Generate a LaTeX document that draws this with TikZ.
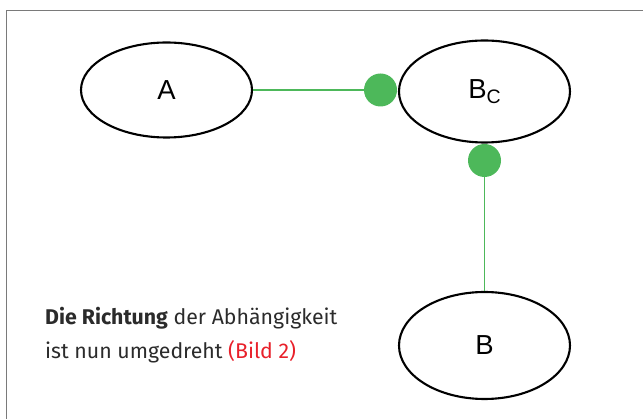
\documentclass[tikz,border=0pt]{standalone}
\usepackage{fontspec}
\setmainfont{Fira Sans}
\newfontfamily\labelfont{Liberation Sans}
\usetikzlibrary{shapes.geometric}
\definecolor{dotgreen}{HTML}{4DB85A}
\definecolor{frame}{HTML}{7A7A7A}
\definecolor{bodytext}{HTML}{2B2B2B}
\definecolor{refred}{HTML}{E8202A}
\tikzset{
  entity/.style={ellipse, draw=black, line width=2.1pt, fill=white,
    minimum width=171pt, inner sep=0pt,
    font=\labelfont\fontsize{27.5}{27.5}\selectfont},
  joint/.style={circle, fill=dotgreen, minimum size=33pt, inner sep=0pt},
  link/.style={draw=dotgreen, line width=1.6pt},
  caption/.style={anchor=base west, inner sep=0pt, text=bodytext,
    font=\fontsize{21.3}{24}\selectfont}
}
\begin{document}
\begin{tikzpicture}[x=1pt, y=-1pt]
  \useasboundingbox (0,0) rectangle (643,419);
  % frame (top and left edges visible)
  \draw[frame, line width=1.6pt] (643,10.5) -- (6.5,10.5) -- (6.5,419);

  % entities
  \node[entity, minimum height=95pt] (A) at (166.5,90) {A};
  \node[entity, minimum height=102pt] (BC) at (484.5,91.5)
    {B{\fontsize{19.5}{19.5}\selectfont\raisebox{-5pt}{C}}};
  \node[entity, minimum height=107pt] (B) at (484.5,345.5) {B};

  % dependency joints
  \node[joint] (d1) at (380.5,90) {};
  \node[joint] (d2) at (484.5,160.5) {};

  % connectors
  \path[link] (A.east) -- (d1.west);
  \path[link] (d2.south) -- (B.north);

  % caption
  \node[caption] (t1) at (45,325) {\textbf{Die Richtung} der Abhängigkeit};
  \node[caption] (t2) at (45,359) {ist nun umgedreht \textcolor{refred}{(Bild 2)}};
\end{tikzpicture}
\end{document}
